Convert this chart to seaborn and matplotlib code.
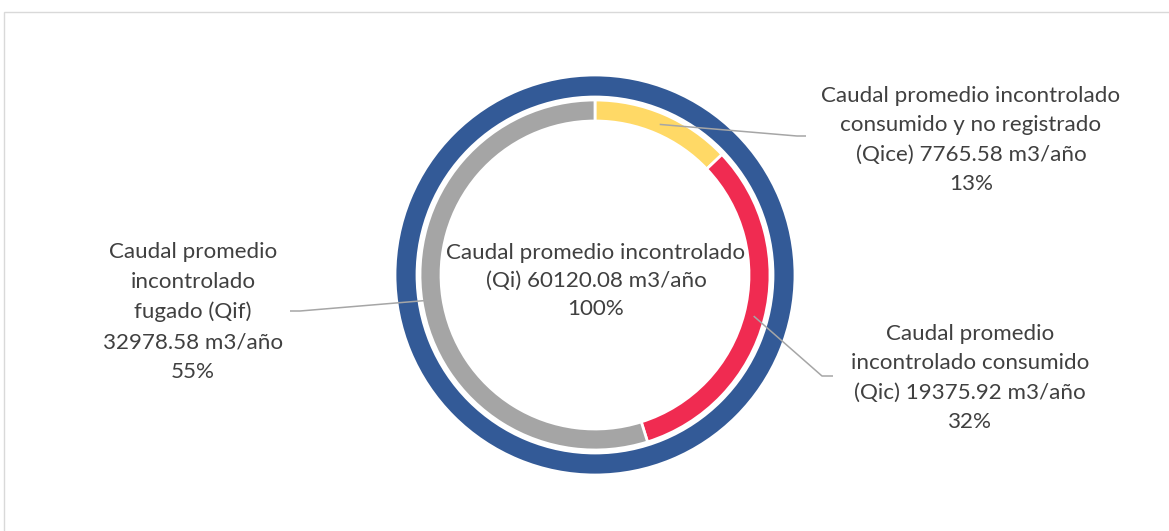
import numpy as np
import matplotlib
matplotlib.use("Agg")
import matplotlib.pyplot as plt
from matplotlib.patches import Rectangle
import seaborn as sns

# ---- data ----
total_label = "Caudal promedio incontrolado\n(Qi) 60120.08 m3/año\n100%"
total_value = [60120.08]
parts = [7765.58, 19375.92, 32978.58]
part_labels = [
    "Caudal promedio incontrolado\nconsumido y no registrado\n(Qice) 7765.58 m3/año\n13%",
    "Caudal promedio\nincontrolado consumido\n(Qic) 19375.92 m3/año\n32%",
    "Caudal promedio\nincontrolado\nfugado (Qif)\n32978.58 m3/año\n55%",
]
outer_color = "#335A97"
part_colors = ["#FFD966", "#F02B51", "#A5A5A5"]

sns.set_theme(style="white")
plt.rcParams["font.family"] = ["Lato", "DejaVu Sans"]

W, H = 1169, 531
fig = plt.figure(figsize=(W / 100, H / 100), dpi=100)
ax = fig.add_axes([0, 0, 1, 1])

S = 200.0  # pixels per data unit
cx, cy = 595.0, 275.0

def px(x, y):
    return ((x - cx) / S, (cy - y) / S)

# chart-area border
fig.add_artist(Rectangle((3.5 / W, -0.1), 1.2, (H - 11.5) / H + 0.1,
                         transform=fig.transFigure, fill=False,
                         edgecolor="#D9D9D9", linewidth=1))

# outer ring
ax.pie(total_value, radius=1.0, colors=[outer_color], startangle=90,
       counterclock=False,
       wedgeprops=dict(width=0.11, edgecolor="white", linewidth=2))
# inner ring
r_in_outer = 0.875
ring_w = 0.105
ax.pie(parts, radius=r_in_outer, colors=part_colors, startangle=90,
       counterclock=False,
       wedgeprops=dict(width=ring_w, edgecolor="white", linewidth=2))

ax.set_xlim(-cx / S, (W - cx) / S)
ax.set_ylim(-(H - cy) / S, cy / S)
ax.set_aspect("equal")
ax.set_axis_off()

txt_color = "#404040"
fs = 16.1
ls = 1.6
ax.text(*px(596, 281), total_label, ha="center", va="center",
        fontsize=fs, color=txt_color, linespacing=1.5)

# leader lines and labels
tot = sum(parts)
cum = np.cumsum([0] + parts[:-1])
mid_angles = [(c + v / 2) / tot * 360 for c, v in zip(cum, parts)]
r_mid = r_in_outer - ring_w / 2 - 0.003

label_pos = [(971, 140), (970, 378), (193, 312)]
elbows = [[(797, 136), (806, 136)],
          [(822, 376), (833, 376)],
          [(300, 311), (290, 311)]]
for ang, lab, lp, el in zip(mid_angles, part_labels, label_pos, elbows):
    a = np.deg2rad(ang)
    x0, y0 = r_mid * np.sin(a), r_mid * np.cos(a)
    pts = [(x0, y0)] + [px(*p) for p in el]
    xs, ys = zip(*pts)
    ax.plot(xs, ys, color="#A6A6A6", linewidth=1.1, solid_capstyle="butt")
    ax.text(*px(*lp), lab, ha="center", va="center", fontsize=fs,
            color=txt_color, linespacing=ls)

fig.savefig("out.png", dpi=100)
